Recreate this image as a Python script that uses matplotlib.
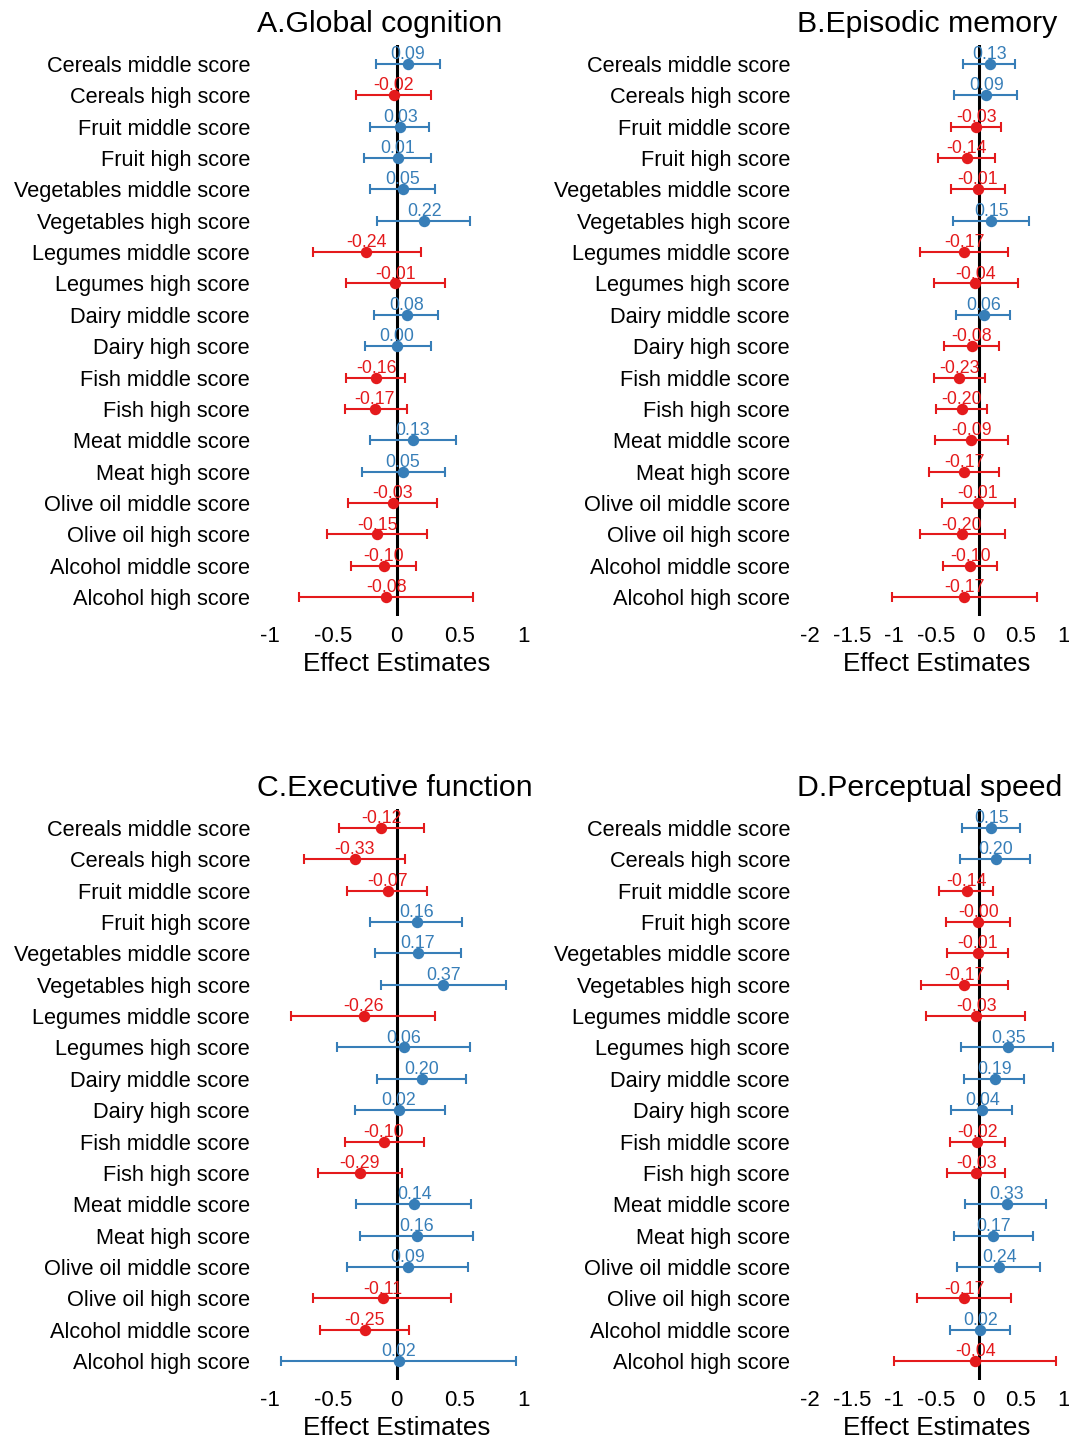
import numpy as np
import matplotlib
matplotlib.use("Agg")
import matplotlib.pyplot as plt
import matplotlib.transforms as mtransforms

plt.rcParams['font.family'] = ['Liberation Sans', 'DejaVu Sans']
plt.rcParams['axes.unicode_minus'] = False

rows = ["Cereals middle score", "Cereals high score", "Fruit middle score", "Fruit high score",
        "Vegetables middle score", "Vegetables high score", "Legumes middle score", "Legumes high score",
        "Dairy middle score", "Dairy high score", "Fish middle score", "Fish high score",
        "Meat middle score", "Meat high score", "Olive oil middle score", "Olive oil high score",
        "Alcohol middle score", "Alcohol high score"]

# A. Global cognition
gc_est = [0.09, -0.02, 0.03, 0.01, 0.05, 0.22, -0.24, -0.01, 0.08, 0.00, -0.16, -0.17, 0.13, 0.05, -0.03, -0.15, -0.10, -0.08]
gc_lo = [-0.16, -0.32, -0.21, -0.26, -0.21, -0.15, -0.66, -0.40, -0.18, -0.25, -0.40, -0.41, -0.21, -0.27, -0.38, -0.55, -0.36, -0.77]
gc_hi = [0.34, 0.27, 0.26, 0.27, 0.30, 0.58, 0.19, 0.38, 0.33, 0.27, 0.07, 0.08, 0.47, 0.38, 0.32, 0.24, 0.15, 0.60]

# B. Episodic memory
em_est = [0.13, 0.09, -0.03, -0.14, -0.01, 0.15, -0.17, -0.04, 0.06, -0.08, -0.23, -0.20, -0.09, -0.17, -0.01, -0.20, -0.10, -0.17]
em_lo = [-0.19, -0.29, -0.33, -0.48, -0.33, -0.31, -0.69, -0.53, -0.27, -0.41, -0.53, -0.51, -0.52, -0.59, -0.44, -0.70, -0.42, -1.03]
em_hi = [0.43, 0.45, 0.26, 0.19, 0.31, 0.59, 0.35, 0.46, 0.37, 0.24, 0.07, 0.10, 0.35, 0.24, 0.43, 0.31, 0.22, 0.69]

# C. Executive function
ef_est = [-0.12, -0.33, -0.07, 0.16, 0.17, 0.37, -0.26, 0.06, 0.20, 0.02, -0.10, -0.29, 0.14, 0.16, 0.09, -0.11, -0.25, 0.02]
ef_lo = [-0.45, -0.73, -0.39, -0.21, -0.17, -0.12, -0.83, -0.47, -0.15, -0.33, -0.41, -0.62, -0.32, -0.29, -0.39, -0.66, -0.60, -0.91]
ef_hi = [0.22, 0.07, 0.24, 0.52, 0.51, 0.86, 0.30, 0.58, 0.55, 0.38, 0.22, 0.04, 0.59, 0.60, 0.56, 0.43, 0.10, 0.94]

# D. Perceptual speed
ps_est = [0.15, 0.20, -0.14, -0.004, -0.01, -0.17, -0.03, 0.35, 0.19, 0.04, -0.02, -0.03, 0.33, 0.17, 0.24, -0.17, 0.02, -0.04]
ps_lo = [-0.20, -0.22, -0.47, -0.39, -0.37, -0.68, -0.62, -0.21, -0.18, -0.33, -0.34, -0.38, -0.16, -0.29, -0.26, -0.73, -0.34, -1.00]
ps_hi = [0.49, 0.60, 0.17, 0.37, 0.35, 0.34, 0.55, 0.88, 0.54, 0.39, 0.31, 0.31, 0.79, 0.64, 0.72, 0.38, 0.37, 0.91]

ticks_small = [-1, -0.5, 0, 0.5, 1]
ticks_wide = [-2, -1.5, -1, -0.5, 0, 0.5, 1]

BLUE = "#377EB8"
RED = "#E41A1C"
W, H = 1069, 1441

fig = plt.figure(figsize=(W / 100, H / 100), dpi=100)
# row labels sit a touch lower than the points in the original
label_shift = mtransforms.ScaledTranslation(0, -2 / 100, fig.dpi_scale_trans)


def panel(px, py, title, est, lo, hi, xlim, ticks):
    ax = fig.add_axes([px / W, 1 - (py + 571) / H, 279 / W, 571 / H])
    ax.axvline(0, color="black", lw=2.2, zorder=1)
    for i, (e, l, h) in enumerate(zip(est, lo, hi)):
        c = RED if e < 0 else BLUE
        ax.errorbar(e, i, xerr=[[e - l], [h - e]], fmt="o", color=c, ms=7.2,
                    elinewidth=1.5, capsize=3.3, capthick=1.5, zorder=2)
        ax.text(e, i - 0.3, f"{e:.2f}", color=c, fontsize=12.8,
                ha="center", va="center", zorder=3)
    ax.set_yticks(range(len(rows)))
    ax.set_yticklabels(rows)
    for lab in ax.get_yticklabels():
        lab.set_transform(lab.get_transform() + label_shift)
    ax.set_ylim(len(rows) - 0.4, -0.6)
    ax.set_xlim(xlim)
    ax.set_xticks(ticks)
    ax.set_xticklabels([f"{t:g}" for t in ticks])
    for s in ax.spines.values():
        s.set_visible(False)
    ax.tick_params(axis="both", length=0, colors="black")
    ax.tick_params(axis="x", pad=7.5, labelsize=16)
    ax.tick_params(axis="y", pad=5, labelsize=15.7)
    ax.set_title(title, loc="left", fontsize=21.8, pad=9.5)
    ax.set_xlabel("Effect Estimates", fontsize=18.7, labelpad=3.5)
    return ax


panel(257, 45, "A.Global cognition", gc_est, gc_lo, gc_hi, (-1.1, 1.1), ticks_small)
panel(797, 45, "B.Episodic memory", em_est, em_lo, em_hi, (-2.15, 1.15), ticks_wide)
panel(257, 809, "C.Executive function", ef_est, ef_lo, ef_hi, (-1.1, 1.1), ticks_small)
panel(797, 809, "D.Perceptual speed", ps_est, ps_lo, ps_hi, (-2.15, 1.15), ticks_wide)

fig.savefig("out.png", dpi=100, facecolor="white")
